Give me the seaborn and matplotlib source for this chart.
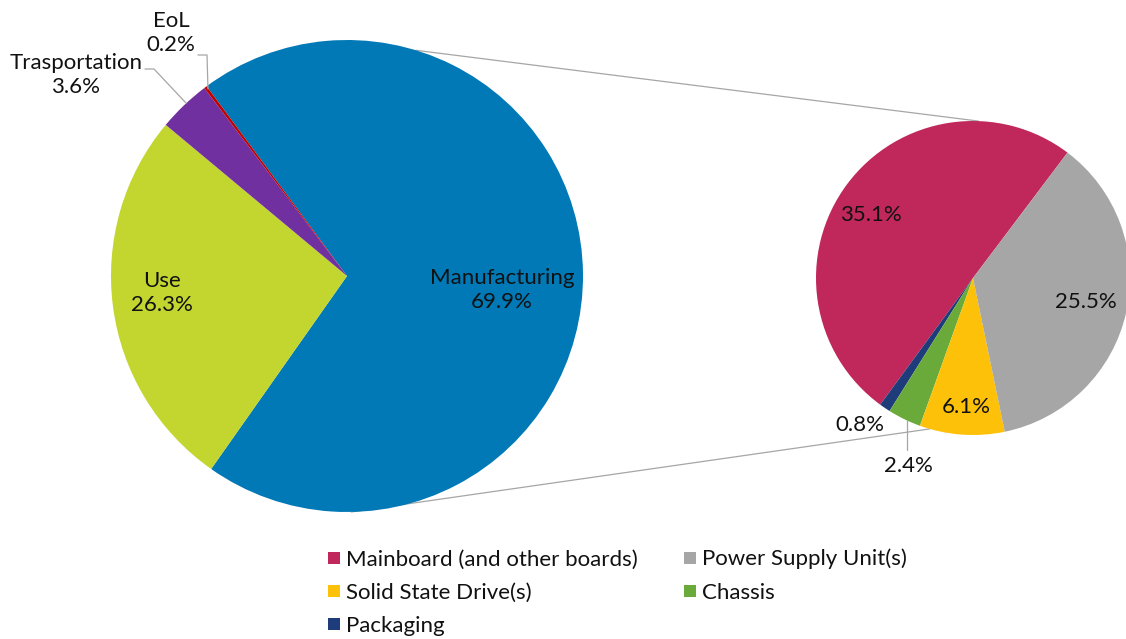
import numpy as np
import matplotlib.pyplot as plt
import seaborn as sns

# main pie: life-cycle phases
phases = ["Manufacturing", "Use", "Trasportation", "EoL"]
phase_share = [69.9, 26.3, 3.6, 0.2]
phase_colors = ["#0079B6", "#C3D62F", "#7030A0", "#C00000"]

# second pie: manufacturing breakdown
parts = ["Mainboard (and other boards)", "Packaging", "Chassis",
         "Solid State Drive(s)", "Power Supply Unit(s)"]
part_share = [35.1, 0.8, 2.4, 6.1, 25.5]
part_colors = ["#C0285B", "#1F3C7A", "#6AAA3A", "#FDC10A", "#A6A6A6"]
# legend is filled column by column -> this gives the reference's row order
legend_order = ["Mainboard (and other boards)", "Solid State Drive(s)", "Packaging",
                "Power Supply Unit(s)", "Chassis"]

sns.set_theme(style="white")
plt.rcParams['font.family'] = ['Lato', 'DejaVu Sans']

W, H = 1126, 639
fig = plt.figure(figsize=(W / 100, H / 100), dpi=100)
ax = fig.add_axes([0, 0, 1, 1])

c1, r1 = (347, 276), 236
c2, r2 = (973, 278), 157


def pt(c, r, ang):
    a = np.deg2rad(ang)
    return c[0] + r * np.cos(a), c[1] - r * np.sin(a)


# y axis is inverted, so counterclock flips visually
ax.pie(phase_share, colors=phase_colors, center=c1, radius=r1,
       startangle=-126.5, counterclock=True, frame=True,
       wedgeprops=dict(linewidth=0))
ax.pie(part_share, colors=part_colors, center=c2, radius=r2,
       startangle=-53, counterclock=False, frame=True,
       wedgeprops=dict(linewidth=0))
ax.set_xlim(0, W)
ax.set_ylim(H, 0)
ax.set_aspect("equal")
ax.axis("off")

# connector lines between the two pies
x0, y0 = pt(c1, r1, 73)
x1, y1 = pt(c2, r2, 88)
ax.plot([x0, x1], [y0, y1], color="#A6A6A6", lw=0.9, zorder=0)
x0, y0 = pt(c1, r1, -89)
x1, y1 = pt(c2, r2, -106)
ax.plot([x0, x1], [y0, y1], color="#A6A6A6", lw=0.9, zorder=0)

fs = 16
txt = dict(ha="center", va="center", fontsize=fs, color="#111111", linespacing=1.3)
ax.text(502, 290, f"{phases[0]}\n{phase_share[0]}%", **txt)
ax.text(162, 293, f"{phases[1]}\n{phase_share[1]}%", **txt)
ax.text(76, 75, f"{phases[2]}\n{phase_share[2]}%", **txt)
ax.text(171, 33, f"{phases[3]}\n{phase_share[3]}%", **txt)
# leader lines
ax.plot([145, 154, 186], [69, 69, 103], color="#A6A6A6", lw=0.9)
ax.plot([198, 207, 208], [55, 55, 89], color="#A6A6A6", lw=0.9)

ax.text(871, 215, f"{part_share[0]}%", **txt)
ax.text(1086, 302, f"{part_share[4]}%", **txt)
ax.text(966, 407, f"{part_share[3]}%", **txt)
ax.text(860, 425, f"{part_share[1]}%", **txt)
ax.text(908, 466, f"{part_share[2]}%", **txt)
ax.plot([907, 907], [420, 450], color="#A6A6A6", lw=0.9)

# legend
cmap = dict(zip(parts, part_colors))
handles = [plt.Line2D([], [], marker="s", ls="", markersize=9,
                      markerfacecolor=cmap[p], markeredgewidth=0, label=p)
           for p in legend_order]
leg = fig.legend(handles=handles, ncol=2, loc="upper left",
                 bbox_to_anchor=(315 / W, 1 - 540 / H), frameon=False,
                 fontsize=fs, handletextpad=0.1, handlelength=0.9,
                 columnspacing=1.9, labelspacing=0.6, borderaxespad=0)
for t in leg.get_texts():
    t.set_color("#111111")

fig.savefig("out.png", dpi=100, facecolor="white")
